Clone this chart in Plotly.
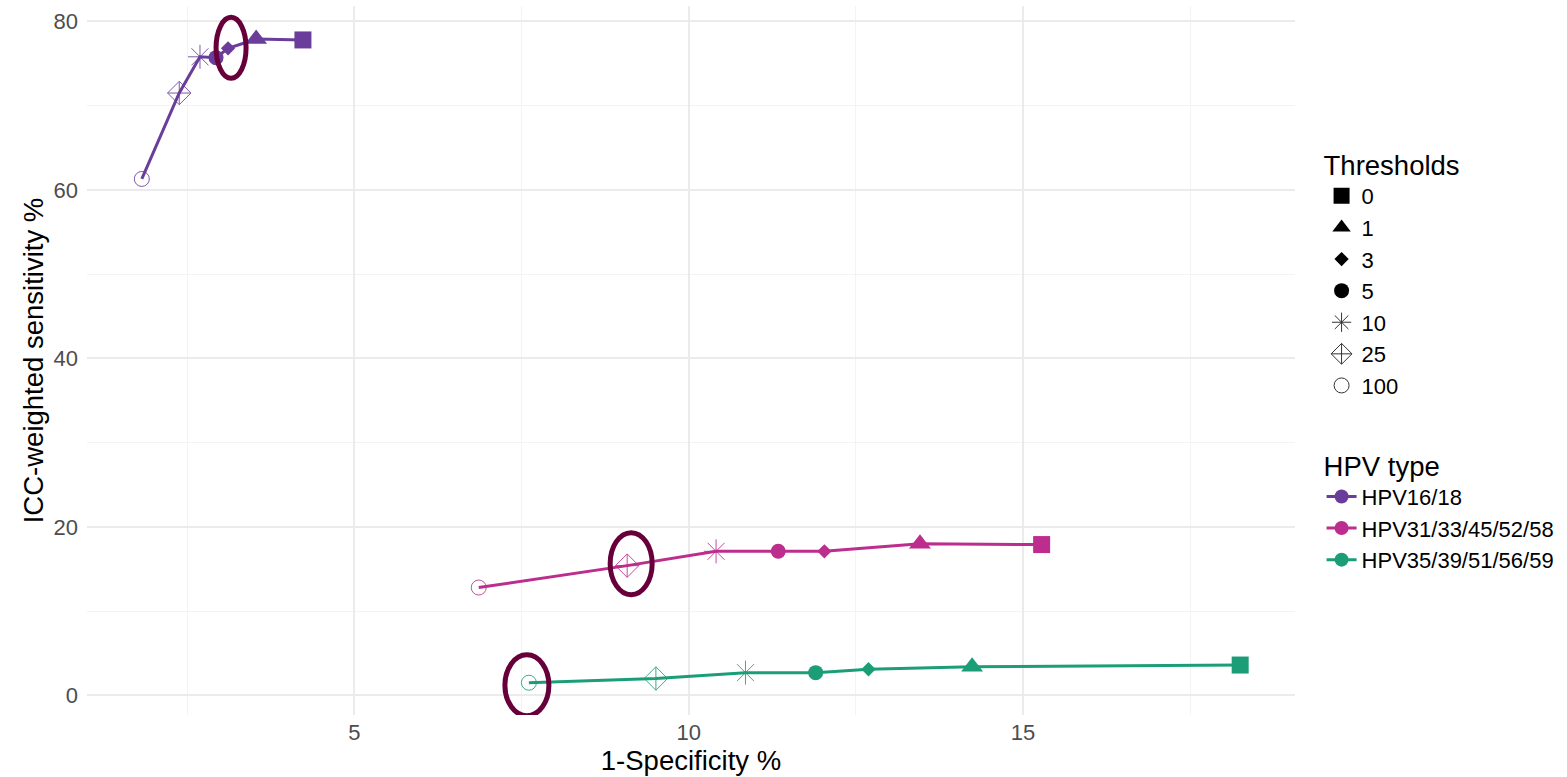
import plotly.graph_objects as go

# Threshold levels (legend order) and their marker symbols
thresholds = ["0", "1", "3", "5", "10", "25", "100"]
symbols = ["square", "triangle-up", "diamond", "circle",
           "asterisk-open", "diamond-cross-open", "circle-open"]
sizes = [17, 19, 11, 15, 20, 18, 15]

hpv_types = ["HPV16/18", "HPV31/33/45/52/58", "HPV35/39/51/56/59"]
colors = ["#6A3D9A", "#BC2D8E", "#1B9E77"]

# 1-Specificity % per threshold (order: 0, 1, 3, 5, 10, 25, 100)
spec_16_18 = [4.23, 3.53, 3.11, 2.93, 2.69, 2.38, 1.82]
spec_31_58 = [15.28, 13.46, 12.03, 11.34, 10.41, 9.08, 6.86]
spec_35_59 = [18.25, 14.24, 12.69, 11.90, 10.85, 9.51, 7.61]

# ICC-weighted sensitivity % per threshold
sens_16_18 = [77.8, 77.9, 76.8, 75.7, 75.8, 71.5, 61.3]
sens_31_58 = [17.9, 18.0, 17.1, 17.1, 17.1, 15.4, 12.8]
sens_35_59 = [3.6, 3.4, 3.1, 2.7, 2.7, 2.0, 1.5]

spec = [spec_16_18, spec_31_58, spec_35_59]
sens = [sens_16_18, sens_31_58, sens_35_59]

# Highlighted points: (HPV type index, threshold index, pixel offsets)
highlights = [(0, 2, (-12, 18, -30, 31)),
              (1, 5, (-17, 25, -29, 33)),
              (2, 6, (-24, 20, -33, 28))]

FONT = "Liberation Sans, Arial, sans-serif"
fig = go.Figure()

for k, name in enumerate(hpv_types):
    c = colors[k]
    fig.add_trace(go.Scatter(
        x=spec[k], y=sens[k], mode="lines", showlegend=False,
        line=dict(color=c, width=3), hoverinfo="skip"))
    for i, t in enumerate(thresholds):
        is_open = "open" in symbols[i]
        fig.add_trace(go.Scatter(
            x=[spec[k][i]], y=[sens[k][i]], mode="markers", showlegend=False,
            opacity=0.85 if is_open else 1.0,
            marker=dict(symbol=symbols[i], size=sizes[i], color=c,
                        line=dict(color=c, width=1 if is_open else 0)),
            hovertemplate=name + "<br>Threshold " + t +
                          "<br>x=%{x}<br>y=%{y}<extra></extra>"))

# Thresholds legend (shape key)
for t, s, sz in zip(thresholds, symbols, sizes):
    is_open = "open" in s
    fig.add_trace(go.Scatter(
        x=[None], y=[None], mode="markers", name=t, legend="legend",
        marker=dict(symbol=s, size=sz, color="black" if not is_open else "#333333",
                    line=dict(color="#333333", width=1 if is_open else 0))))

# HPV type legend (colour key)
for name, c in zip(hpv_types, colors):
    fig.add_trace(go.Scatter(
        x=[None], y=[None], mode="lines+markers", name=name, legend="legend2",
        line=dict(color=c, width=3), marker=dict(symbol="circle", size=14, color=c)))

# Ellipses around the highlighted points
for k, i, (x0, x1, y0, y1) in highlights:
    fig.add_shape(type="circle", xref="x", yref="y",
                  xsizemode="pixel", ysizemode="pixel",
                  xanchor=spec[k][i], yanchor=sens[k][i],
                  x0=x0, x1=x1, y0=y0, y1=y1,
                  line=dict(color="#67003A", width=5))

grid = "#EBEBEB"
fig.update_layout(
    width=1567, height=777,
    margin=dict(l=87, r=272, t=6, b=62),
    plot_bgcolor="white", paper_bgcolor="white",
    font=dict(family=FONT, size=22, color="black"),
    xaxis=dict(range=[1.0, 19.07], tickvals=[5, 10, 15], showline=False,
               zeroline=False, gridcolor=grid, gridwidth=1.5,
               minor=dict(tickvals=[2.5, 7.5, 12.5, 17.5], showgrid=True,
                          gridcolor="#F3F3F3", gridwidth=1),
               ticks="", ticklabelstandoff=2,
               tickfont=dict(color="#4D4D4D", size=22),
               title=dict(text="1-Specificity %", font=dict(size=27.5), standoff=4)),
    yaxis=dict(range=[-2.33, 81.83], tickvals=[0, 20, 40, 60, 80], showline=False,
               zeroline=False, gridcolor=grid, gridwidth=1.5,
               minor=dict(tickvals=[10, 30, 50, 70], showgrid=True,
                          gridcolor="#F3F3F3", gridwidth=1),
               ticks="", ticklabelstandoff=8,
               tickfont=dict(color="#4D4D4D", size=22),
               title=dict(text="ICC-weighted sensitivity %", font=dict(size=27.5), standoff=1)),
    legend=dict(title=dict(text="Thresholds", font=dict(size=27.5)),
                x=1.022, y=0.812, xanchor="left", yanchor="top",
                font=dict(size=22), itemwidth=30, tracegroupgap=0,
                bgcolor="rgba(0,0,0,0)"),
    legend2=dict(title=dict(text="HPV type", font=dict(size=27.5)),
                 x=1.022, y=0.388, xanchor="left", yanchor="top",
                 font=dict(size=22), itemwidth=30,
                 bgcolor="rgba(0,0,0,0)"),
)

fig.write_html("out.html")
